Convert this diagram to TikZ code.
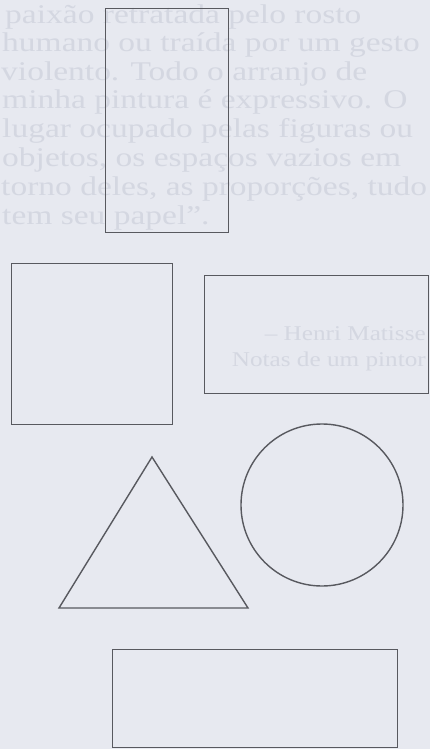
\documentclass[tikz,border=0pt]{standalone}
\usepackage{fontspec}
\setmainfont{Liberation Serif}
\definecolor{paper}{RGB}{231,233,240}
\definecolor{ghost}{RGB}{212,215,225}
\definecolor{ink}{RGB}{88,89,95}
\tikzset{
  shapeline/.style={draw=ink, line width=1.4pt},
  boxshape/.style={shapeline, rectangle, inner sep=0pt, anchor=north west},
  ghosttext/.style={text=ghost, font=\fontsize{27}{30}\selectfont, anchor=base west, inner sep=0pt, xscale=1.24, transform shape},
  ghostsmall/.style={text=ghost, font=\fontsize{21}{24}\selectfont, anchor=base east, inner sep=0pt, xscale=1.2, transform shape}
}
\begin{document}
\begin{tikzpicture}[x=1pt,y=-1pt]
\useasboundingbox (0,0) rectangle (430,749);
\fill[paper] (0,0) rectangle (430,749);
% faint show-through text
\node[ghosttext] (t1) at (5,24) {paixão retratada pelo rosto};
\node[ghosttext] (t2) at (2,52) {humano ou traída por um gesto};
\node[ghosttext] (t3) at (1,81) {violento. Todo o arranjo de};
\node[ghosttext] (t4) at (2,109) {minha pintura é expressivo. O};
\node[ghosttext] (t5) at (2,138) {lugar ocupado pelas figuras ou};
\node[ghosttext] (t6) at (2,166) {objetos, os espaços vazios em};
\node[ghosttext] (t7) at (1,195) {torno deles, as proporções, tudo};
\node[ghosttext] (t8) at (2,224) {tem seu papel”.};
\node[ghostsmall] (t9) at (426,340) {– Henri Matisse};
\node[ghostsmall] (t10) at (426,366) {Notas de um pintor};
% shapes
\node[boxshape, minimum width=123pt, minimum height=224pt] (tall) at (105,8) {};
\node[boxshape, minimum width=161pt, minimum height=161pt] (square) at (11,263) {};
\node[boxshape, minimum width=224pt, minimum height=118pt] (wide) at (204,275) {};
\draw[shapeline, line join=miter] (152,457) -- (248,608) -- (59,608) -- cycle;
\node[shapeline, circle, minimum size=162pt, inner sep=0pt] (circ) at (322,505) {};
\node[boxshape, minimum width=285pt, minimum height=98pt] (bottom) at (112,649) {};
\end{tikzpicture}
\end{document}
